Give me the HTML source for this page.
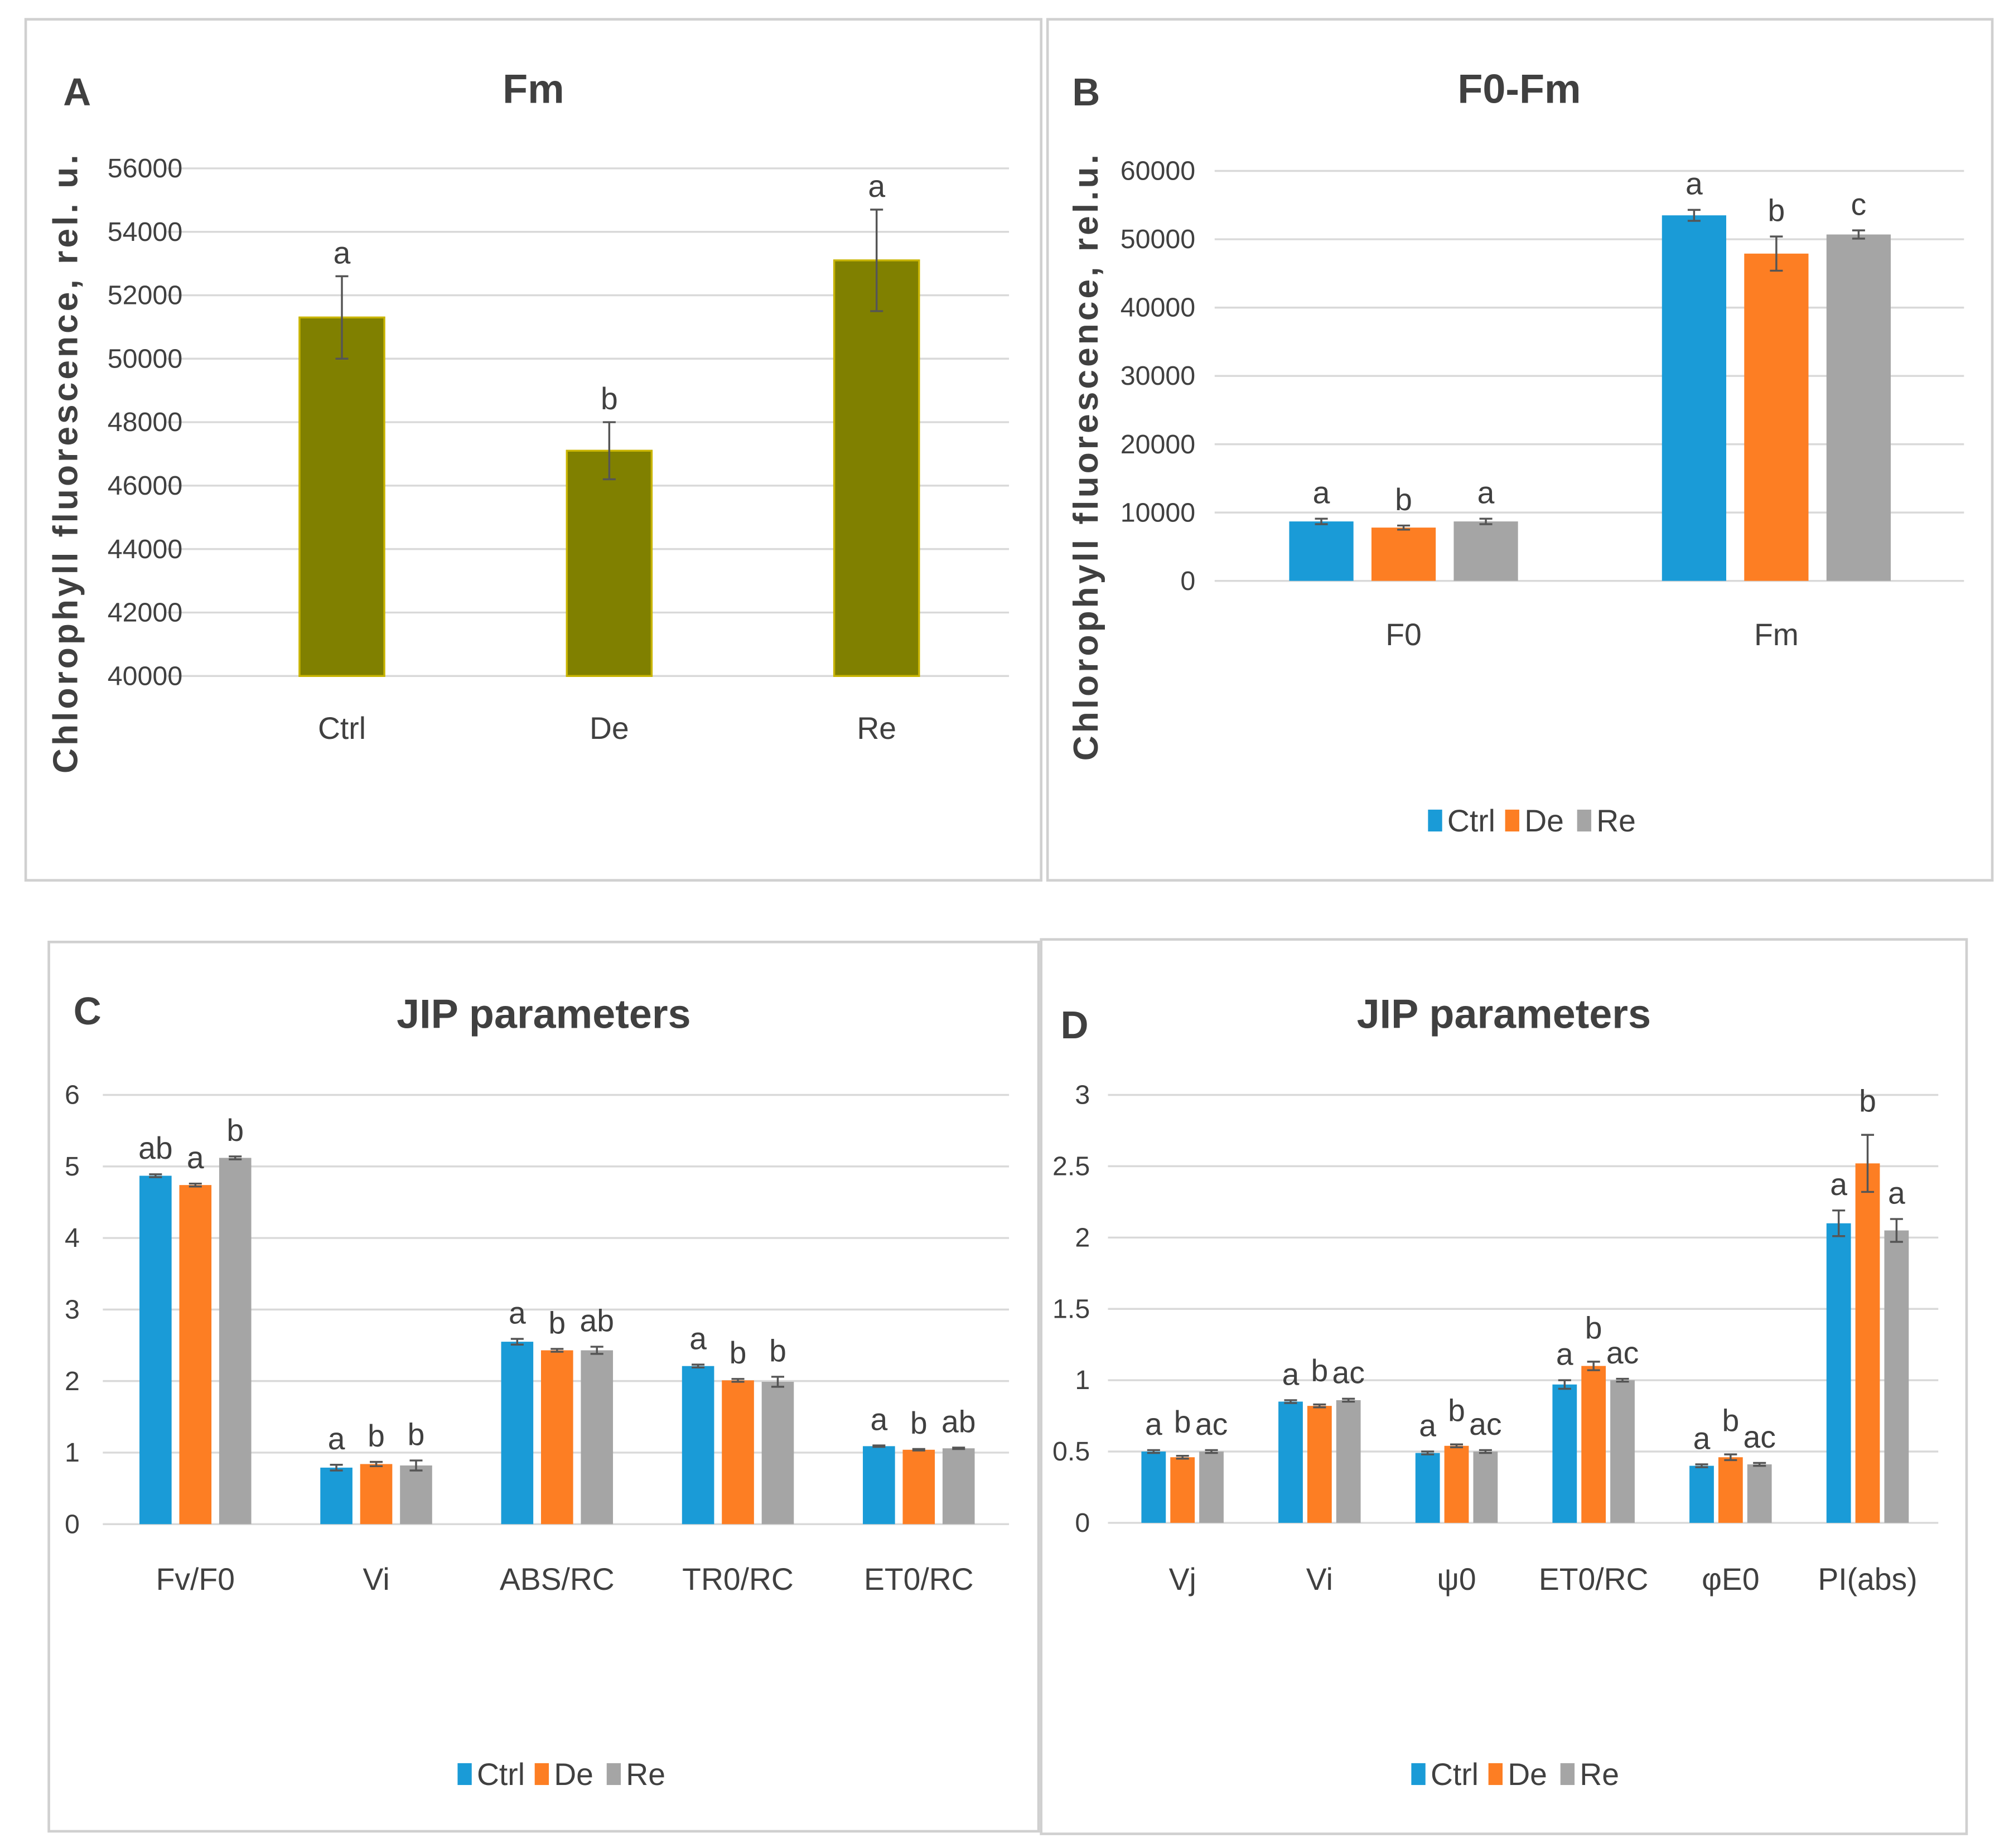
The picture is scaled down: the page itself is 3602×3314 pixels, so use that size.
<!DOCTYPE html>
<html><head><meta charset="utf-8"><style>
html,body{margin:0;padding:0;background:#fff}
svg{display:block}
text{font-family:"Liberation Sans Narrow","Liberation Sans",sans-serif;fill:#404040}
</style></head><body>
<svg id="c" width="3602" height="3314" viewBox="0 0 1563 1438" xmlns="http://www.w3.org/2000/svg"></svg>
<script>
// Panel A
const catsA=["Ctrl","De","Re"];
const valsA=[51300,47100,53100];
const errA=[1300,900,1600];
const letA=["a","b","a"];
const ticksA=[40000,42000,44000,46000,48000,50000,52000,54000,56000];
// Panel B
const catsB=["F0","Fm"];
const ctrlB=[8700,53500], deB=[7800,47900], reB=[8700,50700];
const ctrlBe=[400,800], deBe=[300,2500], reBe=[400,600];
const letB=[["a","b","a"],["a","b","c"]];
const ticksB=[0,10000,20000,30000,40000,50000,60000];
// Panel C
const catsC=["Fv/F0","Vi","ABS/RC","TR0/RC","ET0/RC"];
const ctrlC=[4.87,0.79,2.55,2.21,1.09], deC=[4.74,0.84,2.43,2.01,1.04], reC=[5.12,0.82,2.43,1.99,1.06];
const ctrlCe=[0.02,0.04,0.04,0.02,0.01], deCe=[0.02,0.03,0.02,0.02,0.01], reCe=[0.02,0.07,0.05,0.07,0.01];
const letC=[["ab","a","b"],["a","b","b"],["a","b","ab"],["a","b","b"],["a","b","ab"]];
const ticksC=[0,1,2,3,4,5,6];
// Panel D
const catsD=["Vj","Vi","ψ0","ET0/RC","φE0","PI(abs)"];
const ctrlD=[0.50,0.85,0.49,0.97,0.40,2.10], deD=[0.46,0.82,0.54,1.10,0.46,2.52], reD=[0.50,0.86,0.50,1.00,0.41,2.05];
const ctrlDe=[0.01,0.01,0.01,0.03,0.01,0.09], deDe=[0.01,0.01,0.01,0.03,0.02,0.20], reDe=[0.01,0.01,0.01,0.01,0.01,0.08];
const letD=[["a","b","ac"],["a","b","ac"],["a","b","ac"],["a","b","ac"],["a","b","ac"],["a","b","a"]];
const ticksD=[0,0.5,1,1.5,2,2.5,3];
const tickLblD=["0","0.5","1","1.5","2","2.5","3"];

const svg=document.getElementById('c');
const NS="http://www.w3.org/2000/svg";
function el(tag,attrs,txt){const e=document.createElementNS(NS,tag);for(const k in attrs)e.setAttribute(k,attrs[k]);if(txt!==undefined)e.textContent=txt;svg.appendChild(e);return e;}
const COLS=["#1a9bd7","#fd7e23","#a5a5a5"];

function frame(x,y,w,h,name){const r=el('rect',{x:x,y:y,width:w,height:h,fill:'none',stroke:'#d0d0d0','stroke-width':2});

}
function txt(x,y,s,size,opts,name){const t=el('text',Object.assign({x:x,y:y,'font-size':size,'text-anchor':'middle'},opts||{}),s);

return t;}
function axis(x0,x1,yTop,yBot,ticks,labels,lx,name){
  const min=ticks[0],max=ticks[ticks.length-1];
  const sy=v=>yBot-(v-min)/(max-min)*(yBot-yTop);
  ticks.forEach((t,i)=>{const l=el('line',{x1:x0,x2:x1,y1:sy(t),y2:sy(t),stroke:'#d9d9d9','stroke-width':1.5});
    
    
    txt(lx,sy(t)+7,labels?labels[i]:String(t),21,{'text-anchor':'end'},name+'-tick-label');});
  return sy;}
function bar(cx,w,v,e,sy,color,stroke,name){
  const y=sy(v),y0=sy(sy.min0);
  const r=el('rect',{x:cx-w/2,y:y,width:w,height:y0-y,fill:color,stroke:stroke||'none','stroke-width':stroke?1.5:0});
  
  
  const yt=sy(v+e),yb=sy(v-e);
  const eb=el('path',{d:`M${cx},${yt}V${yb}M${cx-5},${yt}H${cx+5}M${cx-5},${yb}H${cx+5}`,stroke:'#555','stroke-width':1.5,fill:'none'});
  
  
  return yt;}
function legend(cx,y,name){
  const items=["Ctrl","De","Re"];const xs=[-74,-14,42];
  items.forEach((s,i)=>{const r=el('rect',{x:cx+xs[i],y:y-17,width:11,height:17,fill:COLS[i]});
    
    
    txt(cx+xs[i]+15,y,s,24,{'text-anchor':'start'},name+'-label-'+s.toLowerCase());});}

// ---- Panel A
frame(20,15,790,670,'panel-a-frame');
txt(60,82,"A",30,{'font-weight':'bold'},'panel-a-letter');
txt(415,80,"Fm",32,{'font-weight':'bold'},'panel-a-title');
{const sy=axis(130,785,131,526,ticksA,null,142,'panel-a');sy.min0=ticksA[0];
 const xs=[266,474,682];
 catsA.forEach((c,i)=>{const yt=bar(xs[i],66,valsA[i],errA[i],sy,'#808000','#c8b400','panel-a-bar-'+c.toLowerCase());
  txt(xs[i],yt-10,letA[i],24,{},'panel-a-sig-letter');
  txt(xs[i],575,c,24,{},'panel-a-x-label');});
 txt(0,0,"Chlorophyll fluorescence, rel. u.",27,{transform:'translate(60,360) rotate(-90)','font-family':'Liberation Sans, sans-serif','font-weight':'bold','letter-spacing':2.2,fill:'#595959'},'panel-a-y-axis-title');}

// ---- Panel B
frame(815,15,735,670,'panel-b-frame');
txt(845,82,"B",30,{'font-weight':'bold'},'panel-b-letter');
txt(1182,80,"F0-Fm",32,{'font-weight':'bold'},'panel-b-title');
{const sy=axis(945,1528,133,452,ticksB,null,930,'panel-b');sy.min0=0;
 const gx=[1092,1382],off=64;
 const series=[ctrlB,deB,reB],errs=[ctrlBe,deBe,reBe],names=["ctrl","de","re"];
 catsB.forEach((c,g)=>{series.forEach((s,k)=>{const cx=gx[g]+(k-1)*off;
   const yt=bar(cx,50,s[g],errs[k][g],sy,COLS[k],null,'panel-b-bar-'+c.toLowerCase()+'-'+names[k]);
   txt(cx,yt-12,letB[g][k],24,{},'panel-b-sig-letter');});
  txt(gx[g],502,c,24,{},'panel-b-x-label');});
 legend(1185,647,'panel-b-legend');
 txt(0,0,"Chlorophyll fluorescence, rel.u.",27,{transform:'translate(854,355) rotate(-90)','font-family':'Liberation Sans, sans-serif','font-weight':'bold','letter-spacing':2.2,fill:'#595959'},'panel-b-y-axis-title');}

// ---- Panel C
frame(38,733,770,692,'panel-c-frame');
txt(68,797,"C",30,{'font-weight':'bold'},'panel-c-letter');
txt(423,800,"JIP parameters",32,{'font-weight':'bold'},'panel-c-title');
{const sy=axis(80,785,852,1186,ticksC,null,62,'panel-c');sy.min0=0;
 const series=[ctrlC,deC,reC],errs=[ctrlCe,deCe,reCe],names=["ctrl","de","re"];
 catsC.forEach((c,g)=>{const gx=152+g*140.7;series.forEach((s,k)=>{const cx=gx+(k-1)*31;
   const yt=bar(cx,25,s[g],errs[k][g],sy,COLS[k],null,'panel-c-bar-'+c.toLowerCase().replace('/','-')+'-'+names[k]);
   txt(cx,yt-12,letC[g][k],24,{},'panel-c-sig-letter');});
  txt(gx,1237,c,24,{},'panel-c-x-label');});
 legend(430,1389,'panel-c-legend');}

// ---- Panel D
frame(810,731,720,696,'panel-d-frame');
txt(836,808,"D",30,{'font-weight':'bold'},'panel-d-letter');
txt(1170,800,"JIP parameters",32,{'font-weight':'bold'},'panel-d-title');
{const sy=axis(862,1508,852,1185,ticksD,tickLblD,848,'panel-d');sy.min0=0;
 const series=[ctrlD,deD,reD],errs=[ctrlDe,deDe,reDe],names=["ctrl","de","re"];
 catsD.forEach((c,g)=>{const gx=920+g*106.6;series.forEach((s,k)=>{const cx=gx+(k-1)*22.5;
   const yt=bar(cx,19,s[g],errs[k][g],sy,COLS[k],null,'panel-d-bar-'+g+'-'+names[k]);
   txt(cx,yt-12-(k==1?6:0),letD[g][k],24,{},'panel-d-sig-letter');});
  txt(gx,1237,c,24,{},'panel-d-x-label');});
 legend(1172,1389,'panel-d-legend');}
</script>
</body></html>
